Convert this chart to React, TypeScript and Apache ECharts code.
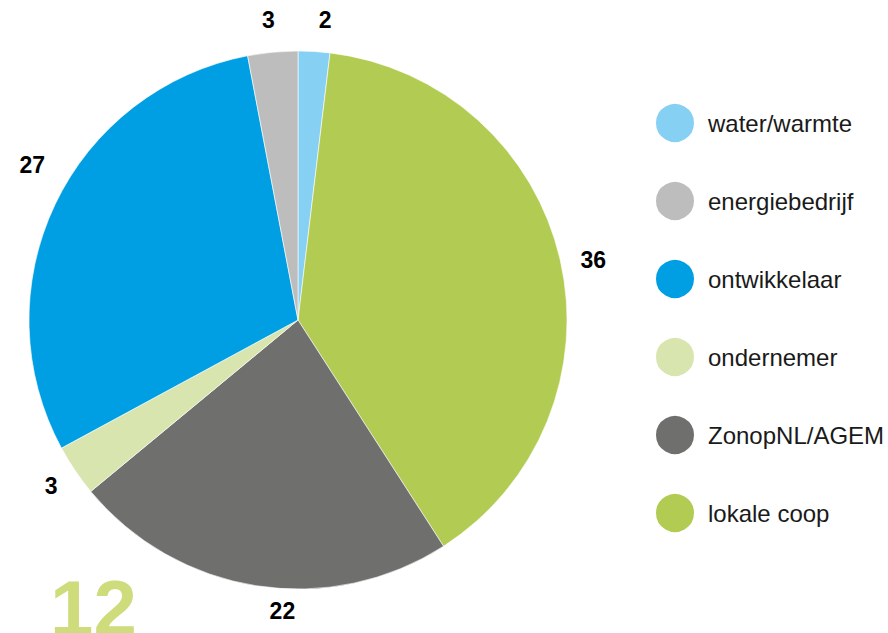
import React, { useEffect, useRef } from "react";
import * as echarts from "echarts";

const sliceNames = ["water/warmte", "lokale coop", "ZonopNL/AGEM", "ondernemer", "ontwikkelaar", "energiebedrijf"];
// slice shares (%)
const sliceShares = [1.9, 39.0, 23.1, 3.1, 29.9, 3.0];
// numbers printed next to the slices
const sliceCounts = [2, 36, 22, 3, 27, 3];
const sliceColors = ["#86d0f4", "#b2cb52", "#6f6f6e", "#d8e5ae", "#009ee2", "#bdbdbd"];
const legendOrder = ["water/warmte", "energiebedrijf", "ontwikkelaar", "ondernemer", "ZonopNL/AGEM", "lokale coop"];
const chartNumber = "12";

const FONT = "'Liberation Sans', Arial, Helvetica, sans-serif";
// small manual nudges of the value labels (style only)
const labelNudges = [[9, 3], [-1, 8], [31, -9], [5, -4], [9, -25], [-1, 3]];

export default function App() {
  const ref = useRef<HTMLDivElement>(null);
  useEffect(() => {
    document.body.style.margin = "0";
    const chart = echarts.init(ref.current!, null, { renderer: "svg" });
    const data = sliceNames.map((n, i) => ({ name: n, value: sliceShares[i], itemStyle: { color: sliceColors[i] } }));
    chart.setOption({
      animation: false,
      legend: {
        orient: "vertical",
        left: 654,
        top: 102,
        padding: 0,
        icon: "circle",
        itemWidth: 40,
        itemHeight: 40,
        itemGap: 36,
        data: legendOrder,
        selectedMode: false,
        textStyle: { fontSize: 24, color: "#1a1a1a", fontFamily: FONT, padding: [0, 0, 0, 8] },
      },
      graphic: [
        {
          type: "text",
          left: 50,
          top: 569,
          silent: true,
          style: { text: chartNumber, fontSize: 78, fill: "#cfdc7c", fontFamily: FONT, fontWeight: "bold" },
        },
      ],
      series: [
        {
          type: "pie",
          center: [298, 320],
          radius: 269,
          startAngle: 90,
          clockwise: true,
          avoidLabelOverlap: false,
          label: { show: false },
          labelLine: { show: false },
          emphasis: { disabled: true },
          itemStyle: { borderColor: "#ffffff", borderWidth: 0.6 },
          data,
        },
        {
          type: "pie",
          center: [298, 320],
          radius: [289, 313],
          startAngle: 90,
          clockwise: true,
          silent: true,
          avoidLabelOverlap: false,
          emphasis: { disabled: true },
          itemStyle: { color: "rgba(0,0,0,0)" },
          label: {
            show: true,
            position: "inside",
            formatter: (p: any) => String(sliceCounts[p.dataIndex]),
            fontSize: 23,
            fontWeight: "bold",
            color: "#000000",
            fontFamily: FONT,
          },
          labelLine: { show: false },
          data: sliceNames.map((n, i) => ({ name: n, value: sliceShares[i], label: { offset: labelNudges[i] } })),
        },
      ],
    });
    return () => chart.dispose();
  }, []);
  return <div ref={ref} style={{ width: 888, height: 633 }} />;
}
